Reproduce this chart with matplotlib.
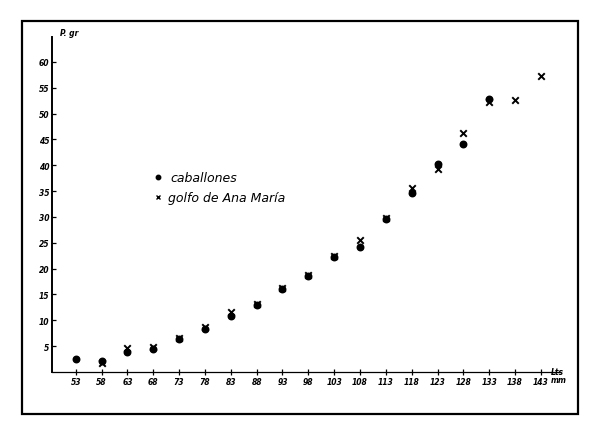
import matplotlib
matplotlib.use("Agg")
import matplotlib.pyplot as plt
from matplotlib.patches import Rectangle

# Data (length in mm vs weight in g)
cab_x = [53, 58, 63, 68, 73, 78, 83, 88, 93, 98, 103, 108, 113, 118, 123, 128, 133]
cab_y = [2.5, 2.2, 3.9, 4.4, 6.4, 8.4, 10.8, 13.0, 16.0, 18.5, 22.2, 24.2, 29.6, 34.6, 40.2, 44.1, 52.8]
gol_x = [58, 63, 68, 73, 78, 83, 88, 93, 98, 103, 108, 113, 118, 123, 128, 133, 138, 143]
gol_y = [1.8, 4.6, 4.9, 6.6, 8.7, 11.6, 13.2, 16.2, 18.8, 22.4, 25.5, 29.8, 35.6, 39.3, 46.2, 52.2, 52.6, 57.3]
x_ticks = list(range(53, 144, 5))
y_ticks = list(range(5, 61, 5))

fig = plt.figure(figsize=(6.0, 4.39), dpi=100)
fig.patch.set_facecolor("white")
fig.patches.append(Rectangle((22/600, 1-415/439), 556/600, 393/439, transform=fig.transFigure,
                             fill=False, edgecolor="black", linewidth=1.6))

ax = fig.add_axes([52/600, 1-373/439, 508/600, 335/439])
ax.set_xlim(48.4, 146.7)
ax.set_ylim(0, 64.8)
for s in ("top", "right"):
    ax.spines[s].set_visible(False)
ax.spines["left"].set_linewidth(1.4)
ax.spines["bottom"].set_linewidth(0.9)

ax.scatter(cab_x, cab_y, s=22, marker="o", color="black", zorder=3)
ax.scatter(gol_x, gol_y, s=22, marker="x", color="black", linewidths=1.4, zorder=3)

ax.set_xticks(x_ticks)
ax.set_xticklabels([str(v) for v in x_ticks], fontsize=5.5, style="italic", fontweight="bold")
ax.set_yticks(y_ticks)
ax.set_yticklabels([str(v) for v in y_ticks], fontsize=5.5, style="italic", fontweight="bold")
ax.tick_params(axis="x", direction="inout", length=5, width=0.9, pad=1)
ax.tick_params(axis="y", direction="in", length=3, width=0.9, pad=2)

ax.text(0.982, -0.01, "Lts\nmm", transform=ax.transAxes, fontsize=5.5, style="italic",
        fontweight="bold", ha="left", va="center", linespacing=0.9)
ax.text(0.015, 1.0, "P. gr", transform=ax.transAxes, fontsize=5.5, style="italic",
        fontweight="bold", ha="left", va="bottom")

# legend (hand-written style)
ax.plot([68.9], [37.7], marker="o", color="black", markersize=3.2, linestyle="none")
ax.plot([68.9], [33.8], marker="x", color="black", markersize=3.2, mew=1.0, linestyle="none")
ax.text(71.3, 37.7, "caballones", fontsize=9, style="italic", va="center", ha="left")
ax.text(70.8, 33.8, "golfo de Ana María", fontsize=9, style="italic", va="center", ha="left")

fig.savefig("out.png", dpi=100, facecolor="white")
